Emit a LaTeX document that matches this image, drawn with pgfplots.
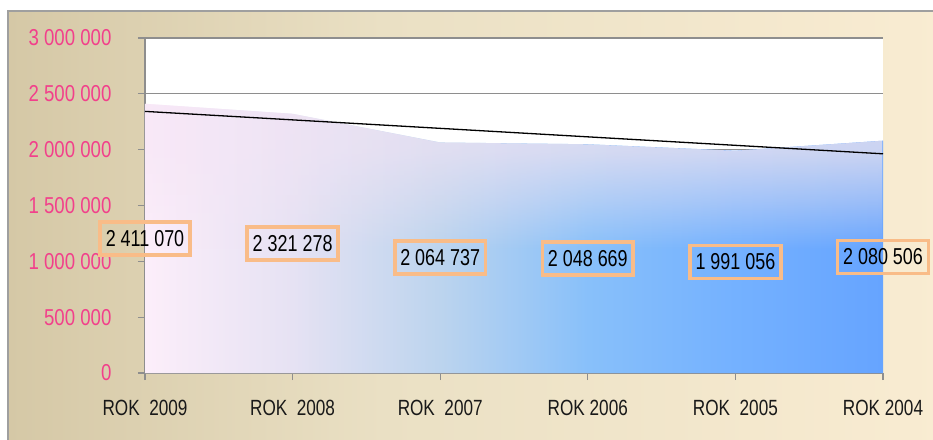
\documentclass[border=0pt]{standalone}
\usepackage{pgfplots}
\pgfplotsset{compat=1.18}
\usepackage{fontspec}
\setmainfont{Liberation Sans}
\newfontfamily\narrowfont[FakeStretch=0.78]{Liberation Sans}
\newfontfamily\tickfont[FakeStretch=0.81]{Liberation Sans}
\usetikzlibrary{fadings}
\definecolor{bg0}{HTML}{D5C8A6}
\definecolor{bg1}{HTML}{EAE0C4}
\definecolor{bg2}{HTML}{F9ECD2}
\definecolor{a0}{HTML}{FCEEFA}
\definecolor{a1}{HTML}{E6E2F3}
\definecolor{a2}{HTML}{BCD4EE}
\definecolor{a3}{HTML}{88C0FA}
\definecolor{a4}{HTML}{74B1FF}
\definecolor{a5}{HTML}{66A4FF}
\definecolor{l0}{HTML}{F8E8F7}
\definecolor{l1}{HTML}{E6E0F2}
\definecolor{l2}{HTML}{DCDCF0}
\definecolor{pinkc}{HTML}{F2408B}
\definecolor{boxc}{HTML}{F9BC88}
\definecolor{gridc}{HTML}{8E8E8E}
\pgfdeclarehorizontalshading{bgsh}{100bp}{color(0bp)=(bg0); color(25bp)=(bg0); color(45bp)=(bg1); color(75bp)=(bg2); color(100bp)=(bg2)}
\pgfdeclarehorizontalshading{areash}{100bp}{color(0bp)=(a0); color(25bp)=(a0); color(35bp)=(a1); color(45bp)=(a2); color(55bp)=(a3); color(65bp)=(a4); color(75bp)=(a5); color(100bp)=(a5)}
\pgfdeclarehorizontalshading{lavsh}{100bp}{color(0bp)=(l0); color(25bp)=(l0); color(45bp)=(l1); color(75bp)=(l2); color(100bp)=(l2)}
\pgfdeclareverticalshading{fadesh}{100bp}{color(0bp)=(black); color(48bp)=(black); color(57bp)=(white!45!black); color(66bp)=(white!85!black); color(75bp)=(white!95!black); color(100bp)=(white!95!black)}
\pgfdeclarefading{topfade}{\pgfuseshading{fadesh}}
\begin{document}
\begin{tikzpicture}
\useasboundingbox (0,0) rectangle (933pt,-439pt);
\fill[shading=bgsh] (8pt,-11pt) rectangle (945pt,-450pt);
\draw[gray!75, line width=1.5pt] (8pt,-445pt) -- (8pt,-11pt) -- (945pt,-11pt);
\begin{axis}[
  at={(145pt,-373pt)}, anchor=south west,
  scale only axis, width=738pt, height=335pt,
  xmin=0, xmax=5, ymin=0, ymax=3000000,
  clip=false,
  axis background/.style={fill=white},
  axis lines*=left,
  axis line style={-, draw=gridc, line width=1.6pt},
  ymajorgrids, grid style={draw=gridc, line width=1.2pt},
  tick align=outside, major tick length=7pt,
  tick style={draw=gridc, line width=1.2pt},
  scaled y ticks=false,
  ytick={0,500000,1000000,1500000,2000000,2500000,3000000},
  yticklabels={0,500 000,1 000 000,1 500 000,2 000 000,2 500 000,3 000 000},
  yticklabel style={font=\tickfont\fontsize{23}{27}\selectfont, text=pinkc, xshift=-23pt},
  xtick={0,1,2,3,4,5},
  xticklabels={ROK~~2009,ROK~~2008,ROK~~2007,ROK 2006,ROK~~2005,ROK 2004},
  xticklabel style={font=\narrowfont\fontsize{22}{26}\selectfont, text=black!90, yshift=-17pt},
]
\addplot[draw=none, mark=none, shading=areash, forget plot] coordinates {
 (0,2411070) (1,2321278) (2,2064737) (3,2048669) (4,1991056) (5,2080506)} \closedcycle;
\addplot[draw=none, mark=none, shading=lavsh, path fading=topfade, forget plot] coordinates {
 (0,2411070) (1,2321278) (2,2064737) (3,2048669) (4,1991056) (5,2080506)} \closedcycle;
\addplot[black, line width=1.3pt, mark=none] coordinates {(0,2342854) (5,1962918)};
\addplot[draw=none, mark=none, point meta=explicit symbolic, nodes near coords,
  every node near coord/.style={anchor=center, draw=boxc, line width=3.6pt,
    inner xsep=5.5pt, minimum height=33pt, text=black,
    font=\narrowfont\fontsize{23}{27}\selectfont}]
 coordinates {
 (0,1205535) [2 411 070]
 (1,1160639) [2 321 278]
 (2,1032369) [2 064 737]
 (3,1024335) [2 048 669]
 (4,995528) [1 991 056]
 (5,1040253) [2 080 506]};
\end{axis}
\end{tikzpicture}
\end{document}
